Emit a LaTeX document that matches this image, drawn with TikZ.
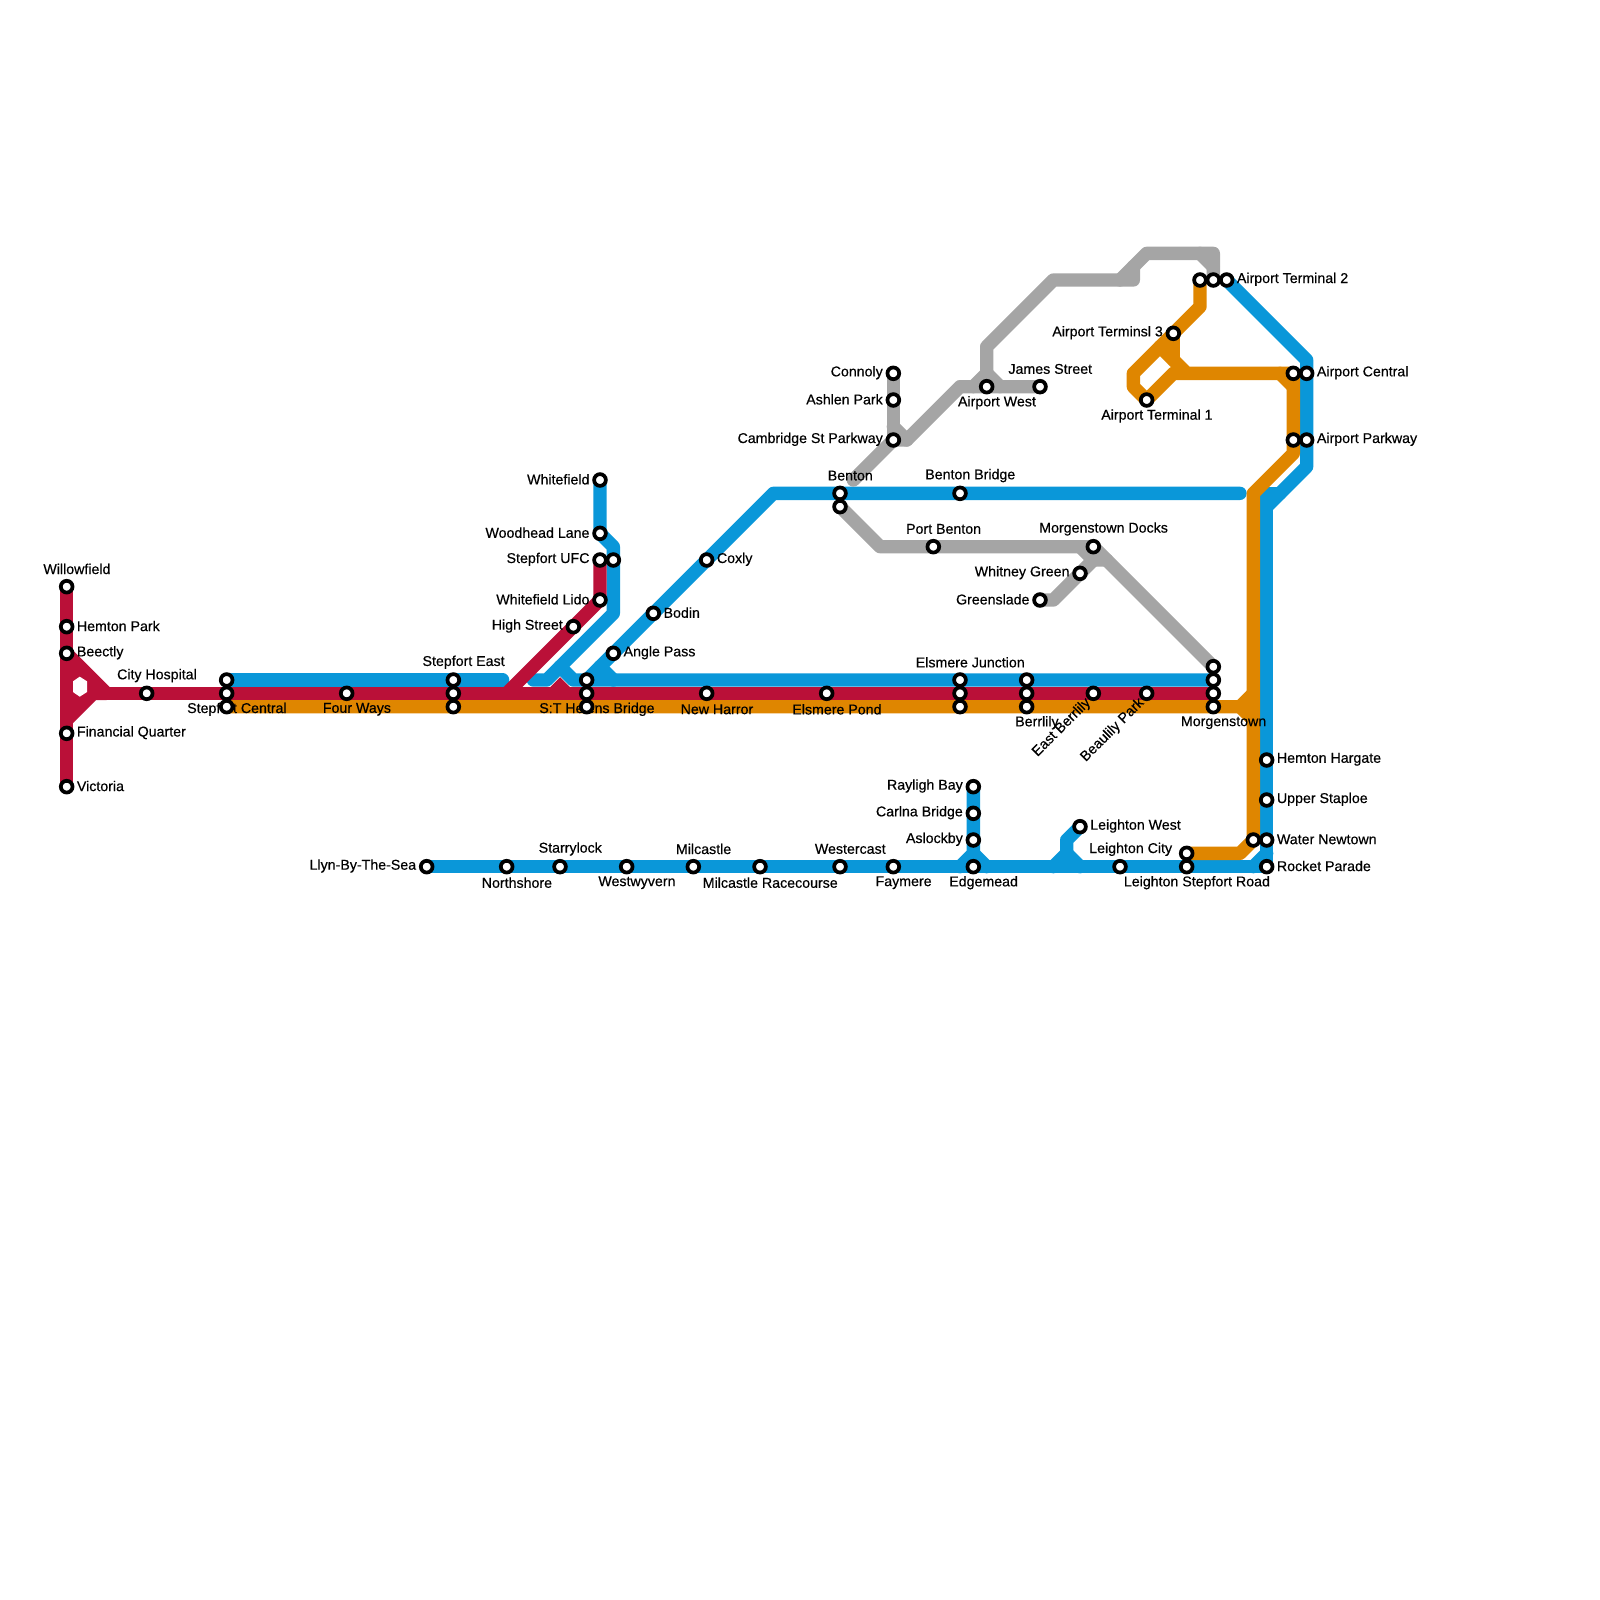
\documentclass[tikz,border=0pt]{standalone}
\usepackage{fontspec}
\setmainfont[FakeBold=0.4]{Liberation Sans}
\pgfdeclarelayer{lines}
\pgfdeclarelayer{labels}
\pgfsetlayers{lines,labels,main}
\definecolor{mblue}{HTML}{0A97D9}
\definecolor{mred}{HTML}{BA1038}
\definecolor{morange}{HTML}{DF8600}
\definecolor{mgray}{HTML}{A5A5A5}
\tikzset{
  metro/.style={line width=10pt,line cap=round,line join=round},
  bluel/.style={metro,draw=mblue},
  redl/.style={metro,draw=mred},
  orangel/.style={metro,draw=morange},
  grayl/.style={metro,draw=mgray},
  stn/.style={circle,draw=black,fill=white,line width=2.8pt,minimum size=8.8pt,inner sep=0pt,outer sep=0pt},
  lab/.style={font=\fontsize{10.65pt}{12pt}\selectfont,inner sep=0pt,text=black},
  labr/.style={lab,anchor=west},
  labl/.style={lab,anchor=east},
  labc/.style={lab,anchor=center},
}
\begin{document}
\begin{tikzpicture}[x=10pt,y=-10pt]
\useasboundingbox (0,0) rectangle (120,120);
% stations
\foreach \n/\p in {
 willowfield/{5,44},hemtonpark/{5,47},beectly/{5,49},finquarter/{5,55},victoria/{5,59},
 cityhosp/{11,52},scb/{17,51},scr/{17,52},sco/{17,53},fourways/{26,52},
 seb/{34,51},ser/{34,52},seo/{34,53},sthb/{44,51},sthr/{44,52},stho/{44,53},
 whitefield/{45,36},woodhead/{45,40},ufcr/{45,42},ufcb/{46,42},lido/{45,45},highst/{43,47},
 anglepass/{46,49},bodin/{49,46},coxly/{53,42},newharror/{53,52},elsmerepond/{62,52},
 ejb/{72,51},ejr/{72,52},ejo/{72,53},berb/{77,51},berr/{77,52},bero/{77,53},
 eastber/{82,52},beaulily/{86,52},mtg/{91,50},mtb/{91,51},mtr/{91,52},mto/{91,53},
 bentonb/{63,37},bentong/{63,38},bentonbridge/{72,37},portbenton/{70,41},mdocks/{82,41},
 whitney/{81,43},greenslade/{78,45},connoly/{67,28},ashlen/{67,30},cambridge/{67,33},
 airportwest/{74,29},james/{78,29},tto/{90,21},ttg/{91,21},ttb/{92,21},tthree/{88,25},tone/{86,30},
 aco/{97,28},acb/{98,28},apo/{97,33},apb/{98,33},hargate/{95,57},staploe/{95,60},
 wnb/{95,63},wno/{94,63},rocket/{95,65},lco/{89,64},lcb/{89,65},lwest/{81,62},lstep/{84,65},
 edgemead/{73,65},aslockby/{73,63},carlna/{73,61},rayligh/{73,59},
 llyn/{32,65},northshore/{38,65},starrylock/{42,65},westwyvern/{47,65},milcastle/{52,65},
 racecourse/{57,65},westercast/{63,65},faymere/{67,65}}
 {\node[stn] (\n) at (\p) {};}
\begin{pgfonlayer}{lines}
% blue
\draw[bluel] (scb.center) -- (37.7,51);
\draw[bluel] (whitefield.center) -- (woodhead.center) -- (46,41) -- (46,46) -- (41,51) -- (40,51);
\draw[bluel] (42,50) -- (43,51) -- (mtb.center);
\draw[bluel] (45,50) -- (46,51);
\draw[bluel] (44,51) -- (58,37) -- (93,37);
\draw[bluel] (llyn.center) -- (rocket.center) -- (95,37) -- (96,37);
\draw[bluel] (95,38) -- (98,35) -- (98,27) -- (ttb.center);
\draw[bluel] (94,65) -- (95,64);
\draw[bluel] (rayligh.center) -- (73,64) -- (72,65);
\draw[bluel] (73,64) -- (74,65);
\draw[bluel] (lwest.center) -- (80,63) -- (80,64) -- (79,65);
\draw[bluel] (80,64) -- (81,65);
% gray
\draw[grayl] (connoly.center) -- (cambridge.center);
\draw[grayl] (64,36) -- (cambridge.center) -- (68,33) -- (72,29) -- (james.center);
\draw[grayl] (67,32) -- (68,33);
\draw[grayl] (73,29) -- (74,28) -- (75,29);
\draw[grayl] (74,28) -- (74,26) -- (79,21) -- (85,21) -- (85,20);
\draw[grayl] (84,21) -- (86,19) -- (91,19) -- (ttg.center);
\draw[grayl] (90,19) -- (91,20);
\draw[grayl] (bentong.center) -- (66,41) -- (mdocks.center) -- (mtg.center);
\draw[grayl] (81,41) -- (82,42) -- (83,42);
\draw[grayl] (greenslade.center) -- (79,45) -- (82,42);
% orange
\draw[orangel] (sco.center) -- (93,53) -- (94,52);
\draw[orangel] (93,53) -- (94,54);
\draw[orangel] (lco.center) -- (93,64) -- (94,63) -- (94,37) -- (97,34) -- (aco.center) -- (89,28) -- (87,26);
\draw[orangel] (96,28) -- (97,29);
\draw[orangel] (tone.center) -- (88,28) -- (89,28);
\draw[orangel] (tto.center) -- (90,23) -- (85,28) -- (85,29) -- (tone.center);
\draw[orangel] (tthree.center) -- (88,27);
% red
\fill[mred] (5,48.3) -- (8.7,52) -- (8,52.5) -- (7.2,52.5) -- (5,54.7) -- cycle;
\fill[white] (5.98,50.75) -- (6.53,51.1) -- (6.53,51.9) -- (5.98,52.25) -- (5.47,51.9) -- (5.47,51.1) -- cycle;
\draw[redl] (willowfield.center) -- (victoria.center);
\draw[redl] (8,52) -- (mtr.center);
\draw[redl] (ufcr.center) -- (lido.center) -- (38,52);
\draw[redl,line join=miter] (41.5,52) -- (42,51.5) -- (42.5,52);
\end{pgfonlayer}
\begin{pgfonlayer}{labels}
% right labels
\foreach \n/\t in {hemtonpark/Hemton Park,beectly/Beectly,finquarter/Financial Quarter,victoria/Victoria,
 coxly/Coxly,bodin/Bodin,anglepass/Angle Pass,lwest/Leighton West,hargate/Hemton Hargate,staploe/Upper Staploe,
 wnb/Water Newtown,rocket/Rocket Parade,ttb/Airport Terminal 2,acb/Airport Central,apb/Airport Parkway}
 {\node[labr] (lab\n) at ([shift={(0.75,-0.05)}]\n.center) {\t};}
% left labels
\foreach \n/\t in {whitefield/Whitefield,woodhead/Woodhead Lane,ufcr/Stepfort UFC,lido/Whitefield Lido,highst/High Street,
 connoly/Connoly,ashlen/Ashlen Park,cambridge/Cambridge St Parkway,whitney/Whitney Green,greenslade/Greenslade,
 llyn/Llyn-By-The-Sea,tthree/Airport Terminsl 3,rayligh/Rayligh Bay,carlna/Carlna Bridge,aslockby/Aslockby}
 {\node[labl] (lab\n) at ([shift={(-0.77,-0.05)}]\n.center) {\t};}
\node[labl] (lablco) at ([shift={(-1.07,-0.3)}]lco.center) {Leighton City};
% above labels
\foreach \n/\t in {willowfield/Willowfield,cityhosp/City Hospital,seb/Stepfort East,starrylock/Starrylock,
 milcastle/Milcastle,westercast/Westercast,bentonb/Benton,bentonbridge/Benton Bridge,portbenton/Port Benton,
 mdocks/Morgenstown Docks,james/James Street,ejb/Elsmere Junction}
 {\node[labc] (lab\n) at ([shift={(0.77,-1.33)}]\n.center) {\t};}
% below labels
\foreach \n/\t in {scr/Stepfort Central,fourways/Four Ways,sthr/S:T Helens Bridge,newharror/New Harror,elsmerepond/Elsmere Pond,
 bero/Berrlily,mto/Morgenstown,northshore/Northshore,westwyvern/Westwyvern,racecourse/Milcastle Racecourse,faymere/Faymere,
 edgemead/Edgemead,lcb/Leighton Stepfort Road,airportwest/Airport West,tone/Airport Terminal 1}
 {\node[labc] (lab\n) at ([shift={(0.77,1.2)}]\n.center) {\t};}
% rotated labels
\node[lab,anchor=east,rotate=45] (labeastber) at ([shift={(-0.35,0.55)}]eastber.center) {East Berrlily};
\node[lab,anchor=east,rotate=45] (labbeaulily) at ([shift={(-0.35,0.55)}]beaulily.center) {Beaulily Park};
\end{pgfonlayer}
\end{tikzpicture}
\end{document}
